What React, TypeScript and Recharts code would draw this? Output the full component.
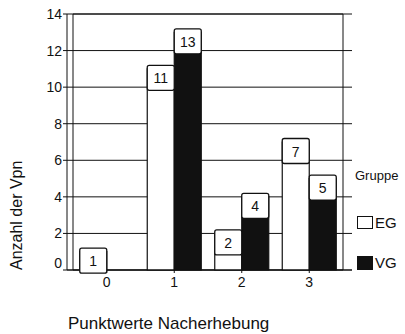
import { Bar, BarChart, CartesianGrid, LabelList, ReferenceArea, XAxis, YAxis } from "recharts";

const punktwerte = ["0", "1", "2", "3"];
const egWerte = [1, 11, 2, 7];
const vgWerte = [0, 13, 4, 5];
const yTicks = [0, 2, 4, 6, 8, 10, 12, 14];

const data = punktwerte.map((p, i) => ({ punkt: p, EG: egWerte[i], VG: vgWerte[i] }));

const ink = "#111";
const font = "'Liberation Sans', Arial, sans-serif";

function ValueBox(props: any) {
  const { x, y, width, value } = props;
  if (!value) return null;
  const top = y - 3.5;
  return (
    <g>
      <rect x={x} y={top} width={width} height={25} rx={2} fill="#fff" stroke={ink} strokeWidth={1.3} />
      <text x={x + width / 2} y={top + 18} textAnchor="middle" fontSize={14} fontFamily={font} fill={ink}>
        {value}
      </text>
    </g>
  );
}

function YTick(props: any) {
  const { x, y, payload } = props;
  const shift = payload.value === 0 ? -7 : 0;
  return (
    <g>
      <line x1={x + 1} x2={x + 5} y1={y} y2={y} stroke={ink} />
      <text x={x} y={y + shift + 5} textAnchor="end" fontSize={14} fontFamily={font} fill={ink}>
        {payload.value}
      </text>
    </g>
  );
}

function XTitle(props: any) {
  const { viewBox } = props;
  return (
    <text x={viewBox.x + 1} y={viewBox.y + 59} fontSize={17} fontFamily={font} fill={ink}>
      Punktwerte Nacherhebung
    </text>
  );
}

function YTitle(props: any) {
  const { viewBox } = props;
  const x = viewBox.x + 22;
  const y = viewBox.y + viewBox.height;
  return (
    <text x={x} y={y} transform={`rotate(-90 ${x} ${y})`} fontSize={16} fontFamily={font} fill={ink}>
      Anzahl der Vpn
    </text>
  );
}

export default function App() {
  return (
    <div style={{ position: "absolute", left: 0, top: 0, width: 405, height: 334, background: "#fff", fontFamily: font }}>
      <BarChart
        width={405}
        height={334}
        data={data}
        margin={{ top: 14, right: 53, bottom: 0, left: 0 }}
        barCategoryGap="10%"
        barGap={0}
      >
        <CartesianGrid vertical={false} stroke={ink} strokeWidth={1} />
        <ReferenceArea y1={0} y2={14} fill="none" stroke={ink} strokeWidth={1} />
        <XAxis
          dataKey="punkt"
          height={64}
          padding={{ left: 6, right: 9 }}
          stroke={ink}
          tickSize={3}
          tickMargin={4}
          tick={{ fill: ink, fontSize: 14, fontFamily: font }}
          label={<XTitle />}
        />
        <YAxis
          width={67}
          domain={[0, 14]}
          ticks={yTicks}
          stroke={ink}
          tickLine={false}
          tickSize={4}
          tickMargin={1}
          tick={<YTick />}
          label={<YTitle />}
        />
        <Bar dataKey="EG" fill="#fff" stroke={ink} strokeWidth={1.2} isAnimationActive={false}>
          <LabelList dataKey="EG" content={<ValueBox />} />
        </Bar>
        <Bar dataKey="VG" fill={ink} stroke={ink} strokeWidth={1.2} isAnimationActive={false}>
          <LabelList dataKey="VG" content={<ValueBox />} />
        </Bar>
      </BarChart>
      <div style={{ position: "absolute", left: 355, top: 168, fontSize: 13, color: ink, lineHeight: "16px" }}>Gruppe</div>
      <div style={{ position: "absolute", left: 357, top: 214, display: "flex", alignItems: "center", fontSize: 15, color: ink }}>
        <span style={{ width: 14, height: 11, border: `1px solid ${ink}`, background: "#fff", display: "inline-block" }} />
        <span style={{ marginLeft: 2 }}>EG</span>
      </div>
      <div style={{ position: "absolute", left: 357, top: 254, display: "flex", alignItems: "center", fontSize: 15, color: ink }}>
        <span style={{ width: 16, height: 14, background: ink, display: "inline-block" }} />
        <span style={{ marginLeft: 2 }}>VG</span>
      </div>
    </div>
  );
}
